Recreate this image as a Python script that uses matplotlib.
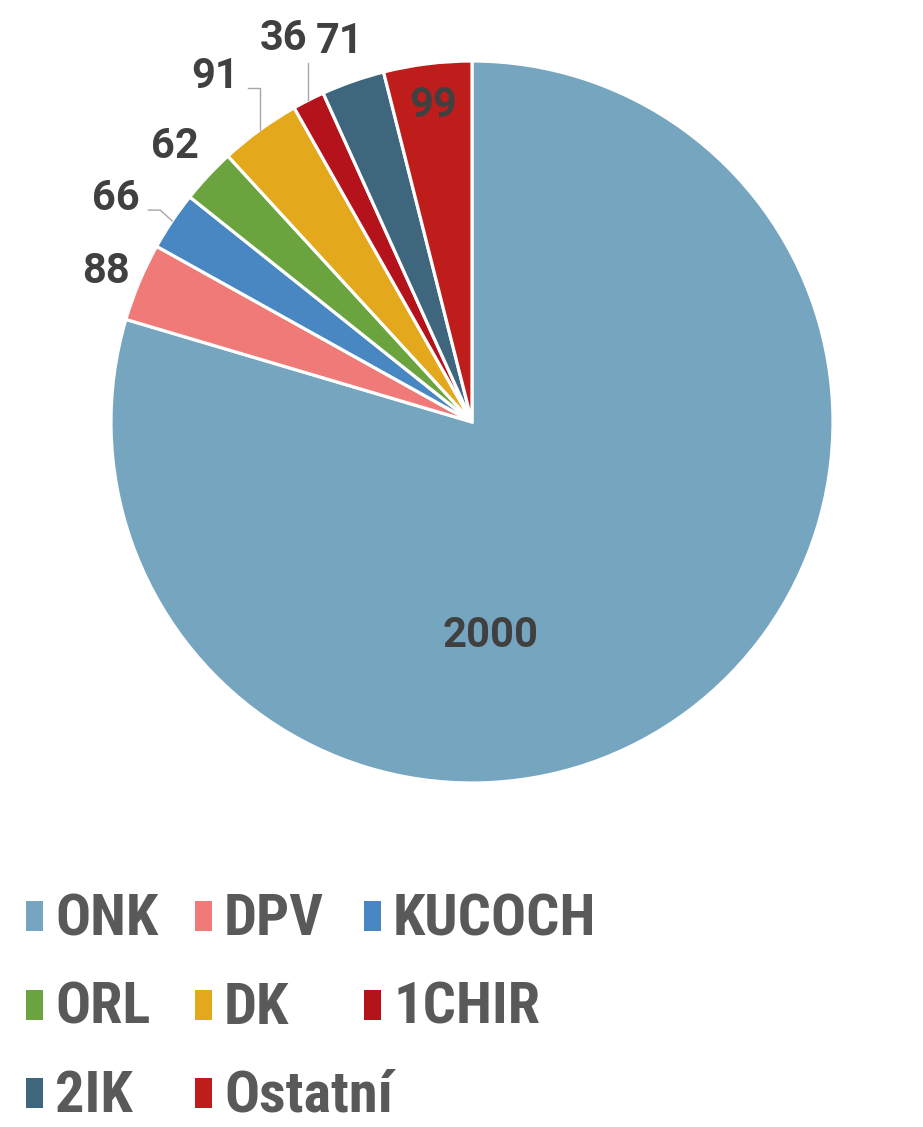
import numpy as np
import matplotlib
matplotlib.use("Agg")
import matplotlib.pyplot as plt
from matplotlib import font_manager as fm
from matplotlib.patches import Rectangle

# ---- data ----
categories = ["ONK", "DPV", "KUCOCH", "ORL", "DK", "1CHIR", "2IK", "Ostatní"]
values = [2000, 88, 66, 62, 91, 36, 71, 99]
colors = ["#76A5BF", "#F07A78", "#4887C1", "#6BA43E", "#E3A81C", "#B5131B", "#3E677D", "#BE1D1C"]

# ---- layout (label anchors in pie-radius units, baseline aligned) ----
label_pos = [(0.050, -0.623), (-1.014, 0.385), (-0.986, 0.587), (-0.823, 0.731),
             (-0.712, 0.925), (-0.521, 1.030), (-0.366, 1.022), (-0.108, 0.845)]

W, H, DPI = 923, 1127, 100
fig = plt.figure(figsize=(W / DPI, H / DPI), dpi=DPI)

cx, cy, R = 472, 422, 361
ax = fig.add_axes([(cx - R) / W, (H - cy - R) / H, 2 * R / W, 2 * R / H])
wedges, _ = ax.pie(values, colors=colors, startangle=90, counterclock=False, radius=1,
                   wedgeprops=dict(edgecolor="white", linewidth=2.3))
for w in wedges:
    w.set_clip_on(False)
ax.set_xlim(-1, 1)
ax.set_ylim(-1, 1)
ax.set_aspect("equal")
ax.axis("off")

names = {f.name for f in fm.fontManager.ttflist}
label_font = "Roboto" if "Roboto" in names else "DejaVu Sans"

for v, (lx, ly) in zip(values, label_pos):
    ax.text(lx, ly, str(v), ha="center", va="baseline", fontsize=30, fontweight="bold",
            color="#404040", family=label_font, clip_on=False)

# leader lines from wedge edge at mid angle
total = sum(values)
angles = 90 - 360 * np.cumsum([0] + values) / total
mids = [(angles[i] + angles[i + 1]) / 2 for i in range(len(values))]
lc = "#A6A6A6"
def edge(i):
    m = np.deg2rad(mids[i])
    return np.cos(m), np.sin(m)
# KUCOCH (66)
ex, ey = edge(2)
ax.plot([ex, ex - 0.033, ex - 0.066], [ey, 0.587, 0.587], color=lc, lw=1.0, clip_on=False)
# DK (91)
ex, ey = edge(4)
ax.plot([ex, ex, ex - 0.033], [ey, 0.925, 0.925], color=lc, lw=1.0, clip_on=False)
# 1CHIR (36)
ex, ey = edge(5)
ax.plot([ex, ex], [ey, 0.994], color=lc, lw=1.0, clip_on=False)

# ---- legend ----
legend_font = None
for n in ["Liberation Sans Narrow", "DejaVu Sans Condensed", "Roboto Condensed", "Open Sans Condensed"]:
    if n in names:
        legend_font = n
        break
legend_size = 42
if legend_font is None:
    legend_font = label_font
    legend_size = 38

for i, (name, col) in enumerate(zip(categories, colors)):
    r, c = divmod(i, 3)
    base = 935 + r * 88.5
    mx = 26 + c * 169
    fig.patches.append(Rectangle((mx / W, (H - base + 4) / H), 17 / W, 30 / H,
                                 transform=fig.transFigure, facecolor=col, edgecolor="none"))
    fig.text((mx + 29) / W, (H - base) / H, name, ha="left", va="baseline",
             fontsize=legend_size, fontweight="bold", color="#595959", family=legend_font)

fig.savefig("out.png", dpi=DPI)
